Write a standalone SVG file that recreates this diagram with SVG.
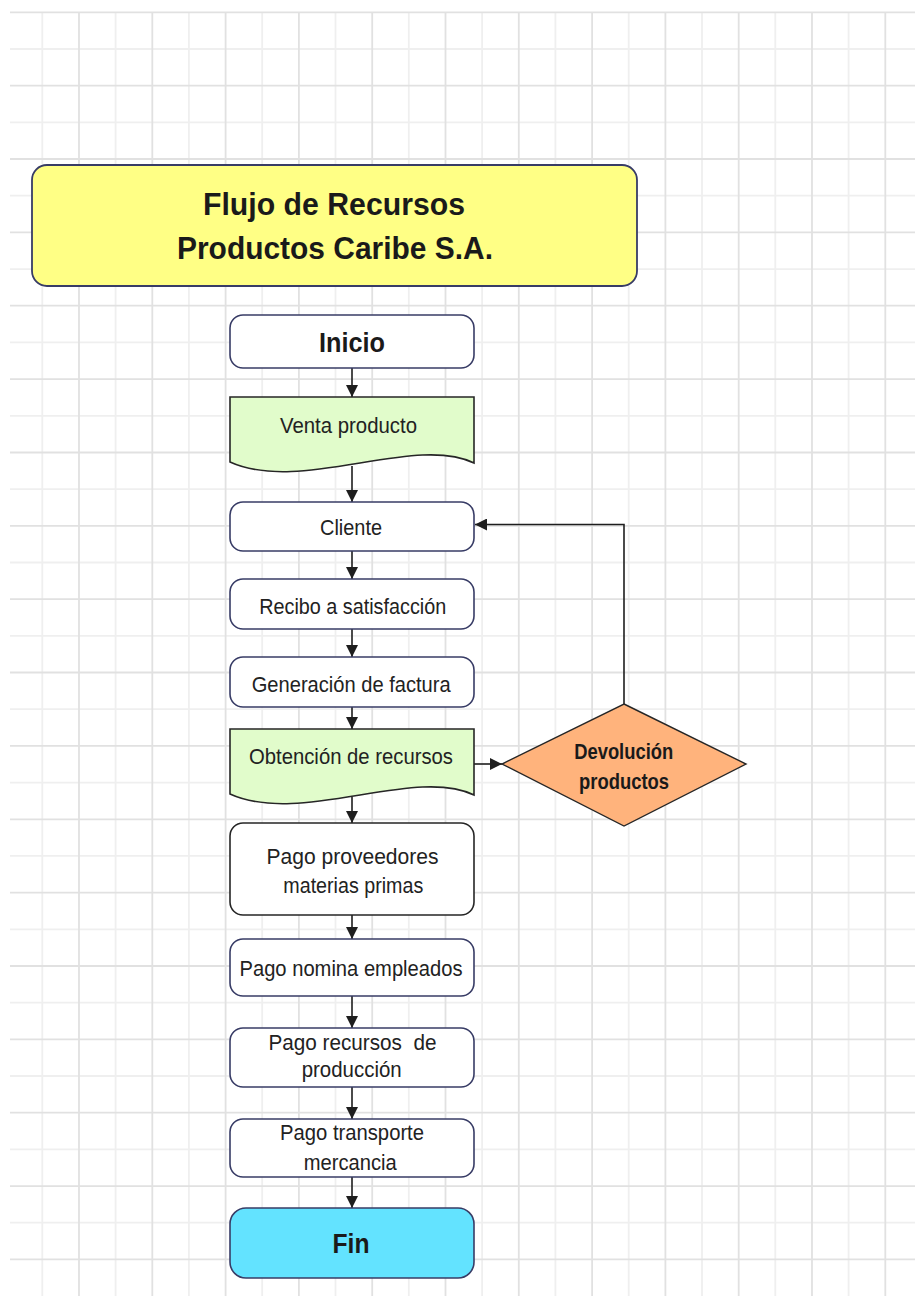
<svg xmlns="http://www.w3.org/2000/svg" width="915" height="1296" viewBox="0 0 915 1296">
  <defs>
    <style>
      .grid-light { stroke: #efefef; stroke-width: 1.8; fill: none; }
      .grid-dark { stroke: #e1e1e1; stroke-width: 1.8; fill: none; }
      .box { fill: #ffffff; stroke: #383c66; stroke-width: 1.6; }
      .box-dark { fill: #ffffff; stroke: #262626; stroke-width: 1.6; }
      .doc { fill: #e1fccb; stroke: #262626; stroke-width: 1.6; }
      .title { fill: #ffff85; stroke: #383c66; stroke-width: 1.8; }
      .decision { fill: #ffb37c; stroke: #262626; stroke-width: 1.4; }
      .end { fill: #63e3ff; stroke: #383c66; stroke-width: 1.6; }
      .lbl { font-family: "Liberation Sans Narrow", "Liberation Sans", Arial, sans-serif; font-size: 22px; fill: #222222; text-anchor: middle; }
      .lbl-b { font-family: "Liberation Sans Narrow", "Liberation Sans", Arial, sans-serif; font-weight: bold; fill: #1a1a1a; text-anchor: middle; }
      .conn { stroke: #1e1e1e; stroke-width: 1.6; fill: none; marker-end: url(#arrow); }
    </style>
    <marker id="arrow" markerUnits="userSpaceOnUse" markerWidth="12" markerHeight="12" refX="12" refY="6" orient="auto">
      <path d="M0,0 L12,6 L0,12 Z" fill="#1e1e1e"/>
    </marker>
  </defs>

  <rect x="0" y="0" width="915" height="1296" fill="#ffffff"/>

  <!-- background grid -->
  <g id="grid">
    <path class="grid-light" d="M42.3,12V1296 M115.6,12V1296 M188.9,12V1296 M262.2,12V1296 M335.5,12V1296 M408.8,12V1296 M482.1,12V1296 M555.4,12V1296 M628.7,12V1296 M702,12V1296 M775.3,12V1296 M848.6,12V1296
      M10,49H915 M10,122.3H915 M10,195.7H915 M10,269.1H915 M10,342.4H915 M10,415.8H915 M10,489.1H915 M10,562.5H915 M10,635.9H915 M10,709.2H915 M10,782.6H915 M10,855.9H915 M10,929.3H915 M10,1002.7H915 M10,1076H915 M10,1149.4H915 M10,1222.7H915"/>
    <path class="grid-dark" d="M79,12V1296 M152.3,12V1296 M225.6,12V1296 M298.9,12V1296 M372.2,12V1296 M445.5,12V1296 M518.8,12V1296 M592.1,12V1296 M665.4,12V1296 M738.7,12V1296 M812,12V1296 M885.3,12V1296
      M10,12.3H915 M10,85.7H915 M10,159H915 M10,232.4H915 M10,305.7H915 M10,379.1H915 M10,452.5H915 M10,525.8H915 M10,599.2H915 M10,672.5H915 M10,745.9H915 M10,819.3H915 M10,892.6H915 M10,966H915 M10,1039.3H915 M10,1112.7H915 M10,1186.1H915 M10,1259.4H915"/>
  </g>

  <!-- connectors -->
  <g id="connectors">
    <path class="conn" d="M352,368 V397"/>
    <path class="conn" d="M352,466 V502"/>
    <path class="conn" d="M352,551 V579"/>
    <path class="conn" d="M352,629 V657"/>
    <path class="conn" d="M352,707 V729"/>
    <path class="conn" d="M352,797 V823"/>
    <path class="conn" d="M352,915 V939"/>
    <path class="conn" d="M352,996 V1028"/>
    <path class="conn" d="M352,1087 V1119"/>
    <path class="conn" d="M352,1177 V1208"/>
    <path class="conn" d="M474,764 H502"/>
    <path class="conn" d="M624,704 V524.5 H475"/>
  </g>

  <g id="titulo">
    <rect class="title" x="32" y="165" width="605" height="121" rx="15"/>
    <text class="lbl-b" x="334" y="215" font-size="31" textLength="262" lengthAdjust="spacingAndGlyphs">Flujo de Recursos</text>
    <text class="lbl-b" x="335" y="259" font-size="31" textLength="316" lengthAdjust="spacingAndGlyphs">Productos Caribe S.A.</text>
  </g>

  <g id="inicio">
    <rect class="box" x="230" y="315" width="244" height="53" rx="13"/>
    <text class="lbl-b" x="352" y="352" font-size="27" textLength="66" lengthAdjust="spacingAndGlyphs">Inicio</text>
  </g>

  <g id="venta-producto">
    <path class="doc" d="M230,397 H474 V463 C415,434 300,494 230,462 Z"/>
    <text class="lbl" x="348.5" y="433" textLength="137" lengthAdjust="spacingAndGlyphs">Venta producto</text>
  </g>

  <g id="cliente">
    <rect class="box" x="230" y="502" width="244" height="49" rx="13"/>
    <text class="lbl" x="351" y="535" textLength="62" lengthAdjust="spacingAndGlyphs">Cliente</text>
  </g>

  <g id="recibo">
    <rect class="box" x="230" y="579" width="244" height="50" rx="13"/>
    <text class="lbl" x="352.7" y="614" textLength="187" lengthAdjust="spacingAndGlyphs">Recibo a satisfacción</text>
  </g>

  <g id="factura">
    <rect class="box" x="230" y="657" width="244" height="50" rx="13"/>
    <text class="lbl" x="351.2" y="692" textLength="199" lengthAdjust="spacingAndGlyphs">Generación de factura</text>
  </g>

  <g id="obtencion-recursos">
    <path class="doc" d="M230,729 H474 V795 C415,766 300,826 230,794 Z"/>
    <text class="lbl" x="351" y="764" textLength="204" lengthAdjust="spacingAndGlyphs">Obtención de recursos</text>
  </g>

  <g id="devolucion">
    <polygon class="decision" points="624,704 746,764 624,826 502,764"/>
    <text class="lbl-b" x="623.7" y="759" font-size="22" textLength="99" lengthAdjust="spacingAndGlyphs">Devolución</text>
    <text class="lbl-b" x="624" y="789" font-size="22" textLength="90" lengthAdjust="spacingAndGlyphs">productos</text>
  </g>

  <g id="pago-proveedores">
    <rect class="box-dark" x="230" y="823" width="244" height="92" rx="13"/>
    <text class="lbl" x="352.5" y="864" textLength="172" lengthAdjust="spacingAndGlyphs">Pago proveedores</text>
    <text class="lbl" x="353.3" y="893" textLength="140" lengthAdjust="spacingAndGlyphs">materias primas</text>
  </g>

  <g id="pago-nomina">
    <rect class="box" x="230" y="939" width="244" height="57" rx="13"/>
    <text class="lbl" x="351" y="976" textLength="223" lengthAdjust="spacingAndGlyphs">Pago nomina empleados</text>
  </g>

  <g id="pago-recursos">
    <rect class="box" x="230" y="1028" width="244" height="59" rx="13"/>
    <text class="lbl" x="352.5" y="1050" textLength="168" lengthAdjust="spacingAndGlyphs" xml:space="preserve">Pago recursos  de</text>
    <text class="lbl" x="351.7" y="1077" textLength="100" lengthAdjust="spacingAndGlyphs">producción</text>
  </g>

  <g id="pago-transporte">
    <rect class="box" x="230" y="1119" width="244" height="58" rx="13"/>
    <text class="lbl" x="352" y="1140" textLength="144" lengthAdjust="spacingAndGlyphs">Pago transporte</text>
    <text class="lbl" x="350.3" y="1170" textLength="93" lengthAdjust="spacingAndGlyphs">mercancia</text>
  </g>

  <g id="fin">
    <rect class="end" x="230" y="1208" width="244" height="70" rx="16"/>
    <text class="lbl-b" x="351" y="1253" font-size="28" textLength="37" lengthAdjust="spacingAndGlyphs">Fin</text>
  </g>
</svg>
